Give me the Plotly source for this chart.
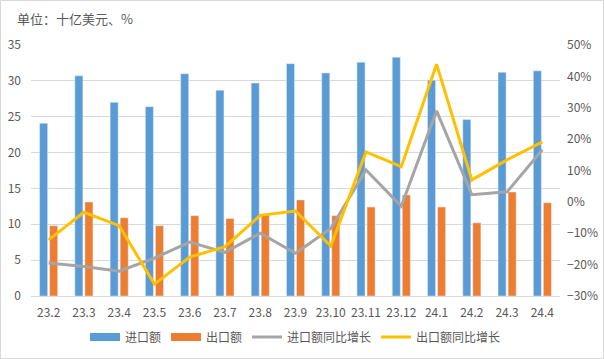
import plotly.graph_objects as go

months = ["23.2", "23.3", "23.4", "23.5", "23.6", "23.7", "23.8", "23.9",
          "23.10", "23.11", "23.12", "24.1", "24.2", "24.3", "24.4"]
imports = [24.1, 30.7, 27.0, 26.4, 31.0, 28.7, 29.7, 32.4, 31.1, 32.6, 33.3, 30.1, 24.6, 31.2, 31.4]
exports = [9.8, 13.1, 10.9, 9.8, 11.2, 10.8, 11.3, 13.4, 11.2, 12.4, 14.1, 12.4, 10.2, 14.5, 13.0]
import_yoy = [-19.5, -20.6, -22.1, -17.9, -12.8, -16.1, -10.0, -16.4, -8.5, 10.2, -1.4, 29.0, 2.3, 3.2, 16.6]
export_yoy = [-12.1, -3.3, -7.6, -26.2, -17.6, -14.3, -4.3, -2.9, -14.1, 15.9, 11.2, 43.9, 7.0, 13.4, 19.1]

FONT = "Noto Sans CJK SC"
TXT = "#595959"
BLUE, ORANGE, GREY, YELLOW = "#5B9BD5", "#ED7D31", "#A5A5A5", "#FFC000"

fig = go.Figure()
fig.add_trace(go.Bar(x=months, y=imports, name="进口额", marker_color=BLUE,
                     legendgroup="imp", showlegend=False))
fig.add_trace(go.Bar(x=months, y=exports, name="出口额", marker_color=ORANGE,
                     legendgroup="exp", showlegend=False))
# legend-only entries so the bar keys appear as wide rectangles like the original
fig.add_trace(go.Scatter(x=[None], y=[None], name="进口额", mode="lines",
                         line=dict(color=BLUE, width=8), legendgroup="imp"))
fig.add_trace(go.Scatter(x=[None], y=[None], name="出口额", mode="lines",
                         line=dict(color=ORANGE, width=8), legendgroup="exp"))
fig.add_trace(go.Scatter(x=months, y=import_yoy, name="进口额同比增长", yaxis="y2",
                         mode="lines", line=dict(color=GREY, width=3)))
fig.add_trace(go.Scatter(x=months, y=export_yoy, name="出口额同比增长", yaxis="y2",
                         mode="lines", line=dict(color=YELLOW, width=3)))

fig.update_layout(
    width=604, height=359,
    margin=dict(l=31, r=44, t=45, b=63, autoexpand=False),
    paper_bgcolor="white", plot_bgcolor="white",
    font=dict(family=FONT, size=12, color=TXT),
    barmode="group", bargap=0.43, bargroupgap=0.2,
    title=dict(text="单位：十亿美元、%", x=17 / 604, xanchor="left", xref="container",
               y=1 - 19 / 359, yanchor="middle", yref="container", pad=dict(l=0, r=0, t=0, b=0),
               font=dict(family=FONT, size=13, color=TXT)),
    xaxis=dict(type="category", range=[-0.5, 14.5], showgrid=False, automargin=False,
               showline=True, linecolor="#D9D9D9", linewidth=1, ticks="",
               ticklabelstandoff=6, tickfont=dict(size=12, color=TXT)),
    yaxis=dict(range=[0, 35], dtick=5, showgrid=True, gridcolor="#D9D9D9", automargin=False,
               zeroline=False, showline=False, ticklabelstandoff=9,
               tickfont=dict(size=12, color=TXT)),
    yaxis2=dict(range=[-30, 50], dtick=10, ticksuffix="%", overlaying="y", side="right",
                showgrid=False, zeroline=False, showline=False, automargin=False,
                ticklabelstandoff=6, tickfont=dict(size=12, color=TXT)),
    legend=dict(orientation="h", x=0.5, xanchor="center", y=-41 / 251, yanchor="middle",
                font=dict(size=12, color=TXT), traceorder="normal", itemwidth=30),
    shapes=[dict(type="rect", xref="paper", yref="paper",
                 x0=(0.5 - 31) / 529, x1=(603.5 - 31) / 529,
                 y0=(296 - 358.5) / 251, y1=(296 - 0.5) / 251,
                 line=dict(color="#D9D9D9", width=1), layer="above")],
)

fig.write_html("out.html", config={"displayModeBar": False},
               post_script="document.body.style.margin='0';document.body.style.overflow='hidden';")
